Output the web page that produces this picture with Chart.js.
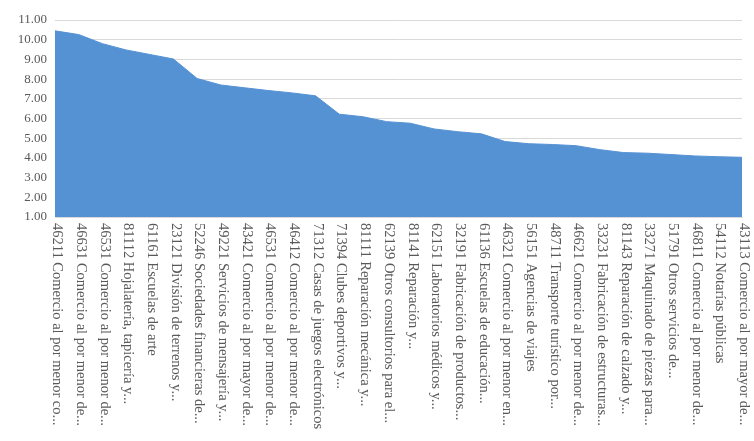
<!DOCTYPE html>
<html>
<head>
<meta charset="utf-8">
<script src="https://cdn.jsdelivr.net/npm/chart.js@4"></script>
<style>
  html, body { margin: 0; padding: 0; background: #fff; }
  #wrap { width: 754px; height: 441px; position: relative; }
</style>
</head>
<body>
<div id="wrap"><canvas id="c"></canvas></div>
<script>
// Activity labels as shown (truncated the same way as the original)
const cats = [
  '46211 Comercio al por menor co...',
  '46631 Comercio al por menor de...',
  '46531 Comercio al por menor de...',
  '81112 Hojalatería, tapicería y...',
  '61161 Escuelas de arte',
  '23121 División de terrenos y...',
  '52246 Sociedades financieras de...',
  '49221 Servicios de mensajería y...',
  '43421 Comercio al por mayor de...',
  '46531 Comercio al por menor de...',
  '46412 Comercio al por menor de...',
  '71312 Casas de juegos electrónicos',
  '71394 Clubes deportivos y...',
  '81111 Reparación mecánica y...',
  '62139 Otros consultorios para el...',
  '81141 Reparación y...',
  '62151 Laboratorios médicos y...',
  '32191 Fabricación de productos...',
  '61136 Escuelas de educación...',
  '46321 Comercio al por menor en...',
  '56151 Agencias de viajes',
  '48711 Transporte turístico por...',
  '46621 Comercio al por menor de...',
  '33231 Fabricación de estructuras...',
  '81143 Reparación de calzado y...',
  '33271 Maquinado de piezas para...',
  '51791 Otros servicios de...',
  '46811 Comercio al por menor de...',
  '54112 Notarías públicas',
  '43113 Comercio al por mayor de...'
];

// values
const vals = [
  10.45, 10.26, 9.80, 9.48, 9.25, 9.02, 8.03, 7.70, 7.56, 7.42,
  7.30, 7.15, 6.22, 6.09, 5.84, 5.76, 5.47, 5.33, 5.22, 4.83,
  4.72, 4.68, 4.62, 4.42, 4.27, 4.24, 4.17, 4.10, 4.06, 4.03
];

const yMin = 1, yMax = 11, yStep = 1;

const txtCol = '#595959';
const fontFam = '"Liberation Serif", "DejaVu Serif", serif';
const xFont = '14.5px ' + fontFam;

// draws x labels reading top to bottom (Chart.js only rotates the other way)
const downLabels = {
  id: 'downLabels',
  afterDraw(chart) {
    const xs = chart.scales.x;
    const ctx = chart.ctx;
    ctx.save();
    ctx.fillStyle = txtCol;
    ctx.font = xFont;
    ctx.textAlign = 'left';
    ctx.textBaseline = 'middle';
    cats.forEach((lab, i) => {
      const x = xs.getPixelForTick(i);
      ctx.save();
      ctx.translate(x + 2, chart.chartArea.bottom + 6);
      ctx.rotate(Math.PI / 2);
      ctx.fillText(lab, 0, 0);
      ctx.restore();
    });
    ctx.restore();
  }
};

new Chart(document.getElementById('c'), {
  type: 'line',
  data: {
    labels: cats,
    datasets: [{
      data: vals,
      fill: 'start',
      backgroundColor: '#5592d4',
      borderColor: '#5592d4',
      borderWidth: 1,
      pointRadius: 0,
      tension: 0
    }]
  },
  options: {
    responsive: true,
    maintainAspectRatio: false,
    animation: false,
    layout: { padding: { top: 20, right: 12, bottom: 0, left: 0 } },
    plugins: { legend: { display: false }, tooltip: { enabled: false } },
    scales: {
      x: {
        offset: false,
        grid: { display: false },
        border: { display: true, color: '#d9d9d9' },
        ticks: { display: false },
        afterFit: s => { s.height = 224; }
      },
      y: {
        min: yMin, max: yMax,
        ticks: {
          stepSize: yStep,
          color: txtCol,
          font: { family: fontFam, size: 13 },
          padding: 8,
          callback: v => v.toFixed(2)
        },
        grid: { color: '#d9d9d9', drawTicks: false },
        border: { display: false },
        afterFit: s => { s.width = 55; }
      }
    }
  },
  plugins: [downLabels]
});
</script>
</body>
</html>
